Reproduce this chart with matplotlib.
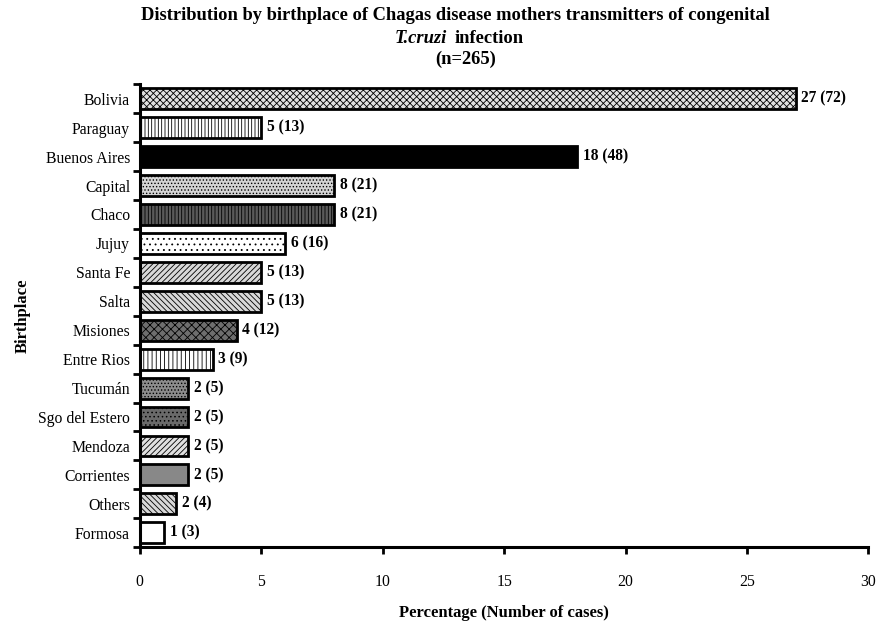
import numpy as np
import matplotlib
matplotlib.use('Agg')
import matplotlib.pyplot as plt

plt.rcParams['font.family'] = ['Liberation Serif', 'DejaVu Serif']
plt.rcParams['hatch.linewidth'] = 0.6

# data
places = ['Bolivia', 'Paraguay', 'Buenos Aires', 'Capital', 'Chaco', 'Jujuy',
          'Santa Fe', 'Salta', 'Misiones', 'Entre Rios', 'Tucumán',
          'Sgo del Estero', 'Mendoza', 'Corrientes', 'Others', 'Formosa']
pct = [27, 5, 18, 8, 8, 6, 5, 5, 4, 3, 2, 2, 2, 2, 1.5, 1]
pct_label = [27, 5, 18, 8, 8, 6, 5, 5, 4, 3, 2, 2, 2, 2, 2, 1]
cases = [72, 13, 48, 21, 21, 16, 13, 13, 12, 9, 5, 5, 5, 5, 4, 3]

# fill style per bar (face colour, hatch)
faces = ['#e0e0e0', 'white', 'black', '#d4d4d4', '#5a5a5a', 'white',
         '#d8d8d8', '#d8d8d8', '#6e6e6e', 'white', '#8c8c8c',
         '#6a6a6a', '#e0e0e0', '#888888', '#d8d8d8', 'white']
hatches = ['xxxxx', '|||||', None, '.....', '|||||', '...',
           '//////', '\\\\\\\\\\\\', 'xxxx', '||||', '.....',
           '....', '//////', None, '\\\\\\\\\\\\', None]

fig = plt.figure(figsize=(8.79, 6.24), dpi=100)
ax = fig.add_axes([0.159, 0.123, 0.829, 0.742])

y = np.arange(len(places))
for i in range(len(places)):
    ax.barh(y[i], pct[i], height=0.72, color=faces[i], hatch=hatches[i],
            edgecolor='black', linewidth=2.0)
    ax.annotate(f'{pct_label[i]} ({cases[i]})', xy=(pct[i], y[i]),
                xytext=(4, 0), textcoords='offset points', va='center',
                ha='left', fontsize=11.2, fontweight='bold')

ax.set_xlim(0, 30)
ax.set_ylim(len(places) - 0.5, -0.5)
ax.set_xticks(range(0, 31, 5))
ax.tick_params(axis='x', direction='out', length=5, width=2, pad=14, labelsize=11.3)

ax.set_yticks(y)
ax.set_yticklabels(places, fontsize=11.3)
ax.tick_params(axis='y', which='major', length=0, pad=7)
ax.set_yticks(np.arange(-0.5, len(places), 1), minor=True)
ax.tick_params(axis='y', which='minor', direction='out', length=5, width=2)

for s in ['top', 'right']:
    ax.spines[s].set_visible(False)
for s in ['left', 'bottom']:
    ax.spines[s].set_linewidth(2.2)

ax.set_xlabel('Percentage (Number of cases)', fontsize=12, fontweight='bold', labelpad=11)
ax.set_ylabel('Birthplace', fontsize=12, fontweight='bold', labelpad=5)

fig.text(0.518, 0.975, 'Distribution by birthplace of Chagas disease mothers transmitters of congenital',
         ha='center', va='center', fontsize=13.3, fontweight='bold')
fig.text(0.5085, 0.938, 'T.cruzi', ha='right', va='center', fontsize=13.3,
         fontweight='bold', style='italic')
fig.text(0.5176, 0.938, 'infection', ha='left', va='center', fontsize=13.3, fontweight='bold')
fig.text(0.53, 0.905, '(n=265)', ha='center', va='center', fontsize=13.3, fontweight='bold')

fig.savefig('out.png', dpi=100)
